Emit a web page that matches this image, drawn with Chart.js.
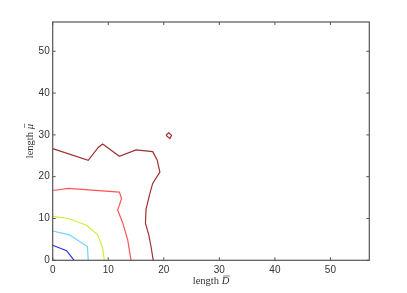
<!DOCTYPE html>
<html>
<head>
<meta charset="utf-8">
<script src="https://cdn.jsdelivr.net/npm/chart.js@4"></script>
<style>
  html, body { margin: 0; padding: 0; background: #fff; }
  #wrap { width: 407px; height: 293px; }
</style>
</head>
<body>
<div id="wrap"><canvas id="chart"></canvas></div>
<script>
// contour lines, [D, mu] pairs
const levelColors = ["#3030e0", "#70d0ff", "#cdf03a", "#ff5555", "#a03030", "#a03030"];
const blueLine = [[0, 3.6], [2.5, 2.3], [3.85, 0]];
const cyanLine = [[0, 7.0], [3.0, 6.1], [6.25, 3.3], [6.4, 0]];
const yellowLine = [[0, 10.5], [2.8, 10.0], [6.1, 8.4], [8.1, 6.1], [9.0, 2.9], [9.3, 0]];
const redLine = [[0, 16.7], [2.8, 17.2], [12.0, 16.3], [12.4, 14.8], [11.7, 12.0], [12.6, 9.0], [13.5, 4.9], [14.1, 0]];
const darkRedLine = [[0, 26.7], [6.4, 23.9], [8.2, 27.0], [9.0, 27.8], [12.0, 24.9], [15.0, 26.4], [18.0, 26.0],
  [18.8, 24.0], [19.3, 21.1], [18.0, 18.4], [17.5, 16.0], [16.8, 12.2], [16.7, 8.8], [17.3, 6.1], [17.7, 3.3], [18.1, 0]];
const darkRedLoop = [[20.4, 29.9], [20.9, 30.5], [21.4, 29.9], [21.1, 29.1], [20.4, 29.9]];
const axisMax = 57;
const tickValues = [0, 10, 20, 30, 40, 50];

const lines = [blueLine, cyanLine, yellowLine, redLine, darkRedLine, darkRedLoop];

// box with inward ticks on all four sides, plus the axis labels
const boxPlugin = {
  id: "box",
  afterDraw(chart) {
    const { ctx, chartArea: a, scales } = chart;
    ctx.save();
    ctx.strokeStyle = "#555";
    ctx.lineWidth = 1.2;
    ctx.strokeRect(a.left, a.top, a.right - a.left, a.bottom - a.top);
    ctx.lineWidth = 1;
    ctx.beginPath();
    scales.x.ticks.forEach(t => {
      const px = scales.x.getPixelForValue(t.value);
      ctx.moveTo(px, a.bottom); ctx.lineTo(px, a.bottom - 3);
      ctx.moveTo(px, a.top); ctx.lineTo(px, a.top + 3);
    });
    scales.y.ticks.forEach(t => {
      const py = scales.y.getPixelForValue(t.value);
      ctx.moveTo(a.left, py); ctx.lineTo(a.left + 3, py);
      ctx.moveTo(a.right, py); ctx.lineTo(a.right - 3, py);
    });
    ctx.stroke();

    // axis titles: upright "length", italic letter with a bar
    function label(word, sym, cx, cy, rot) {
      ctx.save();
      ctx.translate(cx, cy);
      ctx.rotate(rot);
      ctx.fillStyle = "#333";
      ctx.textBaseline = "middle";
      const up = "10.5px 'Liberation Serif', serif";
      const it = "italic 10.5px 'Liberation Serif', serif";
      ctx.font = up;
      const w1 = ctx.measureText(word + " ").width;
      ctx.font = it;
      const w2 = ctx.measureText(sym).width;
      let x = -(w1 + w2) / 2;
      ctx.font = up;
      ctx.textAlign = "left";
      ctx.fillText(word + " ", x, 0);
      ctx.font = it;
      ctx.fillText(sym, x + w1, 0);
      // bar over the symbol
      ctx.strokeStyle = "#333";
      ctx.lineWidth = 0.6;
      ctx.beginPath();
      ctx.moveTo(x + w1 + 1.5, -5.5);
      ctx.lineTo(x + w1 + w2 + 0.5, -5.5);
      ctx.stroke();
      ctx.restore();
    }
    label("length", "D", (a.left + a.right) / 2, 281.5, 0);
    label("length", "\u03bc", 30, (a.top + a.bottom) / 2, -Math.PI / 2);
    ctx.restore();
  }
};

const keepTicks = s => {
  s.ticks = tickValues.map(v => ({ value: v }));
};

new Chart(document.getElementById("chart"), {
  type: "scatter",
  data: {
    datasets: lines.map((pts, i) => ({
      data: pts.map(p => ({ x: p[0], y: p[1] })),
      showLine: true,
      borderColor: levelColors[i],
      borderWidth: 1.2,
      pointRadius: 0,
      tension: 0
    }))
  },
  options: {
    responsive: true,
    maintainAspectRatio: false,
    animation: false,
    layout: { padding: { top: 22, right: 37.7, left: 0, bottom: 0 } },
    plugins: { legend: { display: false }, tooltip: { enabled: false } },
    scales: {
      x: {
        type: "linear",
        min: 0,
        max: axisMax,
        afterBuildTicks: keepTicks,
        afterFit: s => { s.height = 32.7; },
        grid: { display: false, drawTicks: false },
        border: { display: false },
        ticks: { padding: 4, color: "#333", font: { family: "'Liberation Sans', Arial", size: 10 } }
      },
      y: {
        type: "linear",
        min: 0,
        max: axisMax,
        afterBuildTicks: keepTicks,
        afterFit: s => { s.width = 52.7; },
        grid: { display: false, drawTicks: false },
        border: { display: false },
        ticks: { padding: 3, color: "#333", font: { family: "'Liberation Sans', Arial", size: 10 } }
      }
    }
  },
  plugins: [boxPlugin]
});
</script>
</body>
</html>
